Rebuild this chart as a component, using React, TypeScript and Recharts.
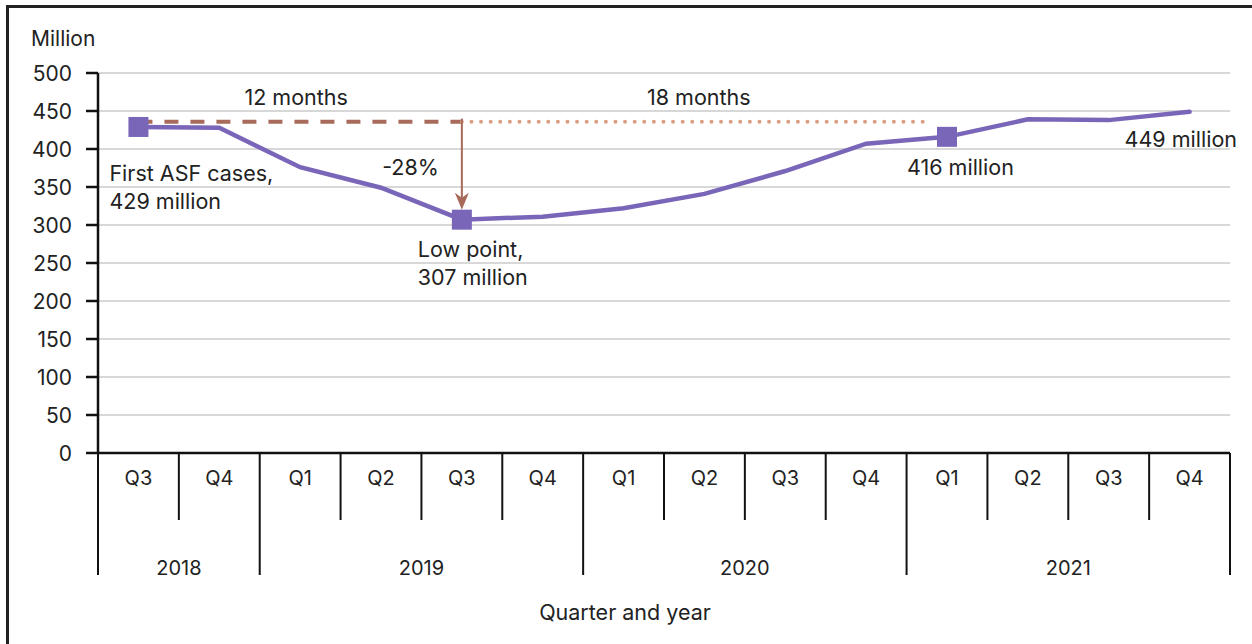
import React from 'react';
import {
  ComposedChart, Line, XAxis, YAxis, CartesianGrid, ReferenceLine, ReferenceDot,
} from 'recharts';

// Hog inventory, million head, by quarter
const quarters = ['Q3', 'Q4', 'Q1', 'Q2', 'Q3', 'Q4', 'Q1', 'Q2', 'Q3', 'Q4', 'Q1', 'Q2', 'Q3', 'Q4'];
const years = ['2018', '2018', '2019', '2019', '2019', '2019', '2020', '2020', '2020', '2020', '2021', '2021', '2021', '2021'];
const inventory = [429, 428, 376, 349, 307, 311, 322, 341, 371, 407, 416, 439, 438, 449];
const markedIdx = [0, 4, 10];
const yTicks = [0, 50, 100, 150, 200, 250, 300, 350, 400, 450, 500];

const refLevel = 436;
const lowLevel = 320;
const recoverIdx = 9.75;

const FONT = 'Inter, "Noto Sans", sans-serif';
const TEXT = '#222';
const PURPLE = '#7a66b9';
const BROWN = '#a86a5a';
const SALMON = '#dc9d85';

const W = 1252;
const H = 644;
const PLOT_LEFT = 98;
const PLOT_RIGHT = 1230;
const PLOT_TOP = 73;
const PLOT_BOTTOM = 453;
const BAND = (PLOT_RIGHT - PLOT_LEFT) / quarters.length;

const data = quarters.map((q, i) => ({ idx: i, quarter: q, year: years[i], value: inventory[i] }));

const QuarterTick = (props: any) => {
  const { x, payload } = props;
  const i = payload.value as number;
  const left = x - BAND / 2;
  const firstOfYear = i === 0 || years[i] !== years[i - 1];
  const yearLen = years.filter((y) => y === years[i]).length;
  const top = PLOT_BOTTOM;
  return (
    <g>
      <line x1={left} x2={left} y1={top} y2={top + (firstOfYear ? 122 : 67)} stroke="#111" strokeWidth={2} />
      {i === quarters.length - 1 && (
        <line x1={left + BAND} x2={left + BAND} y1={top} y2={top + 122} stroke="#111" strokeWidth={2} />
      )}
      <text x={x} y={top + 25} textAnchor="middle" dominantBaseline="central" fill={TEXT} fontSize={20} fontFamily={FONT}>
        {quarters[i]}
      </text>
      {firstOfYear && (
        <text x={left + (yearLen * BAND) / 2} y={top + 115} textAnchor="middle" dominantBaseline="central" fill={TEXT} fontSize={20} fontFamily={FONT}>
          {years[i]}
        </text>
      )}
    </g>
  );
};

const YTick = (props: any) => {
  const { x, y, payload } = props;
  return (
    <text x={x} y={y} textAnchor="end" dominantBaseline="central" fill={TEXT} fontSize={21} fontFamily={FONT}>
      {payload.value}
    </text>
  );
};

const Note = (props: any) => {
  const { viewBox, lines, dx, dy, anchor = 'start' } = props;
  const x = viewBox.x + viewBox.width / 2 + dx;
  const y = viewBox.y + viewBox.height / 2 + dy;
  return (
    <text x={x} y={y} textAnchor={anchor} fill={TEXT} fontSize={21.5} fontFamily={FONT}>
      {lines.map((l: string, k: number) => (
        <tspan key={k} x={x} dy={k === 0 ? 0 : 28} dominantBaseline="central">{l}</tspan>
      ))}
    </text>
  );
};

const Square = (props: any) => {
  const { cx, cy, index } = props;
  if (!markedIdx.includes(index)) return <g key={index} />;
  return <rect key={index} x={cx - 10} y={cy - 10} width={20} height={20} fill={PURPLE} />;
};

const ArrowHead = (props: any) => {
  const { cx, cy } = props;
  return <path d={`M${cx},${cy} L${cx - 7},${cy - 17} L${cx},${cy - 12} L${cx + 7},${cy - 17} Z`} fill={BROWN} />;
};

export default function App() {
  return (
    <div style={{ position: 'absolute', left: 0, top: 0, width: W, height: H, overflow: 'hidden', background: '#fff' }}>
      <div style={{ position: 'absolute', left: 6, top: 5, width: W + 20, height: H + 20, borderLeft: '3px solid #222', borderTop: '3px solid #222' }} />
      <div style={{ position: 'absolute', left: 31, top: 26, fontFamily: FONT, fontSize: 21, color: TEXT }}>Million</div>
      <div style={{ position: 'absolute', left: 0, width: 1250, top: 599, textAlign: 'center', fontFamily: FONT, fontSize: 21.5, color: TEXT }}>
        Quarter and year
      </div>
      <div style={{ position: 'absolute', left: 0, top: 0 }}>
        <ComposedChart
          width={W}
          height={H}
          data={data}
          margin={{ top: PLOT_TOP, right: W - PLOT_RIGHT, left: 8, bottom: H - PLOT_BOTTOM - 150 }}
        >
          <CartesianGrid vertical={false} stroke="#cbcbcb" strokeWidth={1.5} />
          <XAxis
            dataKey="idx"
            type="number"
            domain={[-0.5, quarters.length - 0.5]}
            ticks={quarters.map((_, i) => i)}
            interval={0}
            height={150}
            tickSize={0}
            tickLine={false}
            axisLine={{ stroke: '#111', strokeWidth: 2.5 }}
            tick={<QuarterTick />}
          />
          <YAxis
            width={90}
            domain={[0, 500]}
            ticks={yTicks}
            interval={0}
            tickSize={12}
            tickMargin={14}
            axisLine={{ stroke: '#111', strokeWidth: 2.5 }}
            tickLine={{ stroke: '#111', strokeWidth: 2.5 }}
            tick={<YTick />}
          />
          <ReferenceLine
            segment={[{ x: 0, y: refLevel }, { x: 4, y: refLevel }]}
            stroke={BROWN}
            strokeWidth={4}
            strokeDasharray="14 12"
          />
          <ReferenceLine
            segment={[{ x: 4, y: refLevel }, { x: recoverIdx, y: refLevel }]}
            stroke={SALMON}
            strokeWidth={4}
            strokeLinecap="round"
            strokeDasharray="0 9.6"
          />
          <ReferenceLine
            segment={[{ x: 4, y: refLevel + 4 }, { x: 4, y: lowLevel + 6 }]}
            stroke={BROWN}
            strokeWidth={2}
          />
          <ReferenceDot x={4} y={lowLevel} r={1} fill="none" stroke="none" shape={<ArrowHead />} />
          <Line
            dataKey="value"
            type="linear"
            stroke={PURPLE}
            strokeWidth={4.5}
            strokeLinecap="round"
            dot={<Square />}
            activeDot={false}
            isAnimationActive={false}
          />
          <ReferenceDot x={0} y={inventory[0]} r={1} fill="none" stroke="none"
            label={<Note lines={['First ASF cases,', '429 million']} dx={-29} dy={46} />} />
          <ReferenceDot x={4} y={inventory[4]} r={1} fill="none" stroke="none"
            label={<Note lines={['Low point,', '307 million']} dx={-44} dy={29} />} />
          <ReferenceDot x={10} y={inventory[10]} r={1} fill="none" stroke="none"
            label={<Note lines={['416 million']} dx={-40} dy={30} />} />
          <ReferenceDot x={13} y={inventory[13]} r={1} fill="none" stroke="none"
            label={<Note lines={['449 million']} dx={-65} dy={27} />} />
          <ReferenceDot x={4} y={inventory[4]} r={1} fill="none" stroke="none"
            label={<Note lines={['-28%']} dx={-23} dy={-53} anchor="end" />} />
          <ReferenceDot x={2} y={468} r={1} fill="none" stroke="none"
            label={<Note lines={['12 months']} dx={-4} dy={0} anchor="middle" />} />
          <ReferenceDot x={6.93} y={468} r={1} fill="none" stroke="none"
            label={<Note lines={['18 months']} dx={0} dy={0} anchor="middle" />} />
        </ComposedChart>
      </div>
    </div>
  );
}
